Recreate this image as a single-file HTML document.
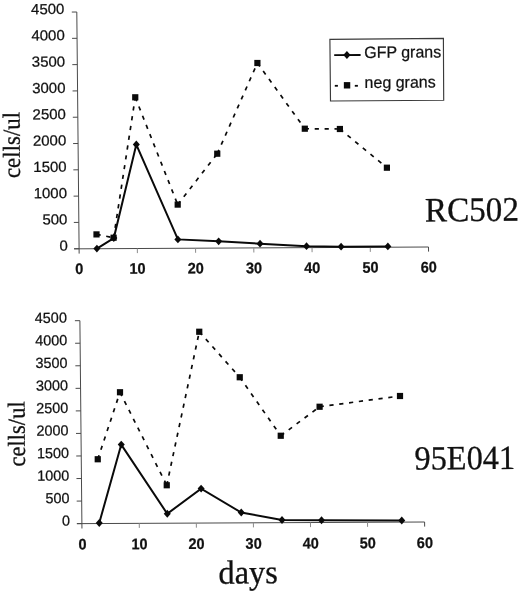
<!DOCTYPE html>
<html lang="en"><head><meta charset="utf-8"><title>cells/ul vs days</title>
<style>
html,body{margin:0;padding:0;background:#fff;}
body{width:520px;height:591px;overflow:hidden;}
svg{display:block;filter:blur(0.35px);}
.sans{font-family:"Liberation Sans",Arial,Helvetica,sans-serif;fill:#111;stroke:#111;stroke-width:0.25px;}
.serif{font-family:"Liberation Serif","Times New Roman",Times,serif;fill:#111;stroke:#111;stroke-width:0.3px;}
.yl{font-size:14.7px;}
.xl{font-size:15.3px;font-weight:bold;}
.lg{font-size:16.4px;}
</style></head><body>
<svg width="520" height="591" viewBox="0 0 520 591">
<rect width="520" height="591" fill="#fff"/>
<g stroke="#4a4a4a" stroke-width="1" fill="none">
<line x1="76.8" y1="12" x2="79.15" y2="253.6"/>
<line x1="74.1" y1="248.85" x2="428.5" y2="247"/>
<line x1="71.8" y1="12.05" x2="76.8" y2="12"/>
<line x1="72.06" y1="38.35" x2="77.06" y2="38.3"/>
<line x1="72.31" y1="64.65" x2="77.31" y2="64.6"/>
<line x1="72.57" y1="90.95" x2="77.57" y2="90.9"/>
<line x1="72.82" y1="117.25" x2="77.82" y2="117.2"/>
<line x1="73.08" y1="143.55" x2="78.08" y2="143.5"/>
<line x1="73.33" y1="169.85" x2="78.33" y2="169.8"/>
<line x1="73.59" y1="196.15" x2="78.59" y2="196.1"/>
<line x1="73.84" y1="222.45" x2="78.84" y2="222.4"/>
<line x1="74.1" y1="248.75" x2="79.1" y2="248.7"/>
<line x1="137.33" y1="248.5" x2="137.38" y2="253.1" stroke="#8c8c8c"/>
<line x1="195.57" y1="248.2" x2="195.62" y2="252.8" stroke="#8c8c8c"/>
<line x1="253.8" y1="247.9" x2="253.85" y2="252.5" stroke="#8c8c8c"/>
<line x1="312.03" y1="247.6" x2="312.08" y2="252.2" stroke="#8c8c8c"/>
<line x1="370.27" y1="247.3" x2="370.32" y2="251.9" stroke="#8c8c8c"/>
<line x1="428.5" y1="247" x2="428.55" y2="251.6"/>
</g>
<text class="sans yl" transform="translate(64.4 14) rotate(-0.4) scale(1.02 1)" text-anchor="end">4500</text>
<text class="sans yl" transform="translate(64.78 40.3) rotate(-0.4) scale(1.02 1)" text-anchor="end">4000</text>
<text class="sans yl" transform="translate(65.15 66.6) rotate(-0.4) scale(1.02 1)" text-anchor="end">3500</text>
<text class="sans yl" transform="translate(65.53 92.9) rotate(-0.4) scale(1.02 1)" text-anchor="end">3000</text>
<text class="sans yl" transform="translate(65.9 119.2) rotate(-0.4) scale(1.02 1)" text-anchor="end">2500</text>
<text class="sans yl" transform="translate(66.28 145.5) rotate(-0.4) scale(1.02 1)" text-anchor="end">2000</text>
<text class="sans yl" transform="translate(66.65 171.8) rotate(-0.4) scale(1.02 1)" text-anchor="end">1500</text>
<text class="sans yl" transform="translate(67.03 198.1) rotate(-0.4) scale(1.02 1)" text-anchor="end">1000</text>
<text class="sans yl" transform="translate(67.4 224.4) rotate(-0.4) scale(1.02 1)" text-anchor="end">500</text>
<text class="sans yl" transform="translate(67.78 250.7) rotate(-0.4) scale(1.02 1)" text-anchor="end">0</text>
<text class="sans xl" transform="translate(79.4 274) rotate(-0.4) scale(0.95 1)" text-anchor="middle">0</text>
<text class="sans xl" transform="translate(137.63 273.72) rotate(-0.4) scale(0.95 1)" text-anchor="middle">10</text>
<text class="sans xl" transform="translate(195.87 273.44) rotate(-0.4) scale(0.95 1)" text-anchor="middle">20</text>
<text class="sans xl" transform="translate(254.1 273.16) rotate(-0.4) scale(0.95 1)" text-anchor="middle">30</text>
<text class="sans xl" transform="translate(312.33 272.88) rotate(-0.4) scale(0.95 1)" text-anchor="middle">40</text>
<text class="sans xl" transform="translate(370.57 272.6) rotate(-0.4) scale(0.95 1)" text-anchor="middle">50</text>
<text class="sans xl" transform="translate(428.8 272.32) rotate(-0.4) scale(0.95 1)" text-anchor="middle">60</text>
<g fill="none" stroke="#0a0a0a" stroke-width="1.7" stroke-dasharray="4.2 5.7">
<path d="M96.5 234.4L113.6 237.7"/>
<path d="M113.6 237.7L135.25 97.3"/>
<path d="M135.25 97.3L177.7 204.6"/>
<path d="M177.7 204.6L217.25 153.7"/>
<path d="M217.25 153.7L257.4 63"/>
<path d="M257.4 63L304.8 128.7"/>
<path d="M304.8 128.7L339.9 129"/>
<path d="M339.9 129L386.9 167.7"/>
</g>
<rect x="93.4" y="231.3" width="6.2" height="6.2" fill="#0a0a0a"/>
<rect x="110.5" y="234.6" width="6.2" height="6.2" fill="#0a0a0a"/>
<rect x="132.15" y="94.2" width="6.2" height="6.2" fill="#0a0a0a"/>
<rect x="174.6" y="201.5" width="6.2" height="6.2" fill="#0a0a0a"/>
<rect x="214.15" y="150.6" width="6.2" height="6.2" fill="#0a0a0a"/>
<rect x="254.3" y="59.9" width="6.2" height="6.2" fill="#0a0a0a"/>
<rect x="301.7" y="125.6" width="6.2" height="6.2" fill="#0a0a0a"/>
<rect x="336.8" y="125.9" width="6.2" height="6.2" fill="#0a0a0a"/>
<rect x="383.8" y="164.6" width="6.2" height="6.2" fill="#0a0a0a"/>
<path d="M96.9 248.6L113.8 238L136.3 144.5L177.9 239.4L218.65 241.35L260 243.65L306.5 246.2L341.1 246.7L387.85 246.4" fill="none" stroke="#0a0a0a" stroke-width="2" stroke-linejoin="miter"/>
<path d="M96.9 244.7L100.4 248.6L96.9 252.5L93.4 248.6Z" fill="#0a0a0a"/>
<path d="M113.8 234.1L117.3 238L113.8 241.9L110.3 238Z" fill="#0a0a0a"/>
<path d="M136.3 140.6L139.8 144.5L136.3 148.4L132.8 144.5Z" fill="#0a0a0a"/>
<path d="M177.9 235.5L181.4 239.4L177.9 243.3L174.4 239.4Z" fill="#0a0a0a"/>
<path d="M218.65 237.45L222.15 241.35L218.65 245.25L215.15 241.35Z" fill="#0a0a0a"/>
<path d="M260 239.75L263.5 243.65L260 247.55L256.5 243.65Z" fill="#0a0a0a"/>
<path d="M306.5 242.3L310 246.2L306.5 250.1L303 246.2Z" fill="#0a0a0a"/>
<path d="M341.1 242.8L344.6 246.7L341.1 250.6L337.6 246.7Z" fill="#0a0a0a"/>
<path d="M387.85 242.5L391.35 246.4L387.85 250.3L384.35 246.4Z" fill="#0a0a0a"/>
<g stroke="#4a4a4a" stroke-width="1" fill="none">
<line x1="79.9" y1="320.66" x2="81.95" y2="528.5"/>
<line x1="76.9" y1="523.65" x2="424.6" y2="522"/>
<line x1="74.9" y1="320.71" x2="79.9" y2="320.66"/>
<line x1="75.12" y1="343.26" x2="80.12" y2="343.21"/>
<line x1="75.34" y1="365.81" x2="80.34" y2="365.76"/>
<line x1="75.57" y1="388.36" x2="80.57" y2="388.31"/>
<line x1="75.79" y1="410.91" x2="80.79" y2="410.86"/>
<line x1="76.01" y1="433.45" x2="81.01" y2="433.4"/>
<line x1="76.23" y1="456" x2="81.23" y2="455.95"/>
<line x1="76.46" y1="478.55" x2="81.46" y2="478.5"/>
<line x1="76.68" y1="501.1" x2="81.68" y2="501.05"/>
<line x1="76.9" y1="523.65" x2="81.9" y2="523.6"/>
<line x1="139.27" y1="523.33" x2="139.32" y2="527.93" stroke="#8c8c8c"/>
<line x1="196.33" y1="523.07" x2="196.38" y2="527.67" stroke="#8c8c8c"/>
<line x1="253.4" y1="522.8" x2="253.45" y2="527.4" stroke="#8c8c8c"/>
<line x1="310.47" y1="522.53" x2="310.52" y2="527.13" stroke="#8c8c8c"/>
<line x1="367.53" y1="522.27" x2="367.58" y2="526.87" stroke="#8c8c8c"/>
<line x1="424.6" y1="522" x2="424.65" y2="526.6"/>
</g>
<text class="sans yl" transform="translate(66.9 322.76) rotate(-0.4) scale(0.98 1)" text-anchor="end">4500</text>
<text class="sans yl" transform="translate(67.24 345.31) rotate(-0.4) scale(0.98 1)" text-anchor="end">4000</text>
<text class="sans yl" transform="translate(67.58 367.86) rotate(-0.4) scale(0.98 1)" text-anchor="end">3500</text>
<text class="sans yl" transform="translate(67.93 390.41) rotate(-0.4) scale(0.98 1)" text-anchor="end">3000</text>
<text class="sans yl" transform="translate(68.27 412.96) rotate(-0.4) scale(0.98 1)" text-anchor="end">2500</text>
<text class="sans yl" transform="translate(68.61 435.5) rotate(-0.4) scale(0.98 1)" text-anchor="end">2000</text>
<text class="sans yl" transform="translate(68.95 458.05) rotate(-0.4) scale(0.98 1)" text-anchor="end">1500</text>
<text class="sans yl" transform="translate(69.3 480.6) rotate(-0.4) scale(0.98 1)" text-anchor="end">1000</text>
<text class="sans yl" transform="translate(69.64 503.15) rotate(-0.4) scale(0.98 1)" text-anchor="end">500</text>
<text class="sans yl" transform="translate(69.98 525.7) rotate(-0.4) scale(0.98 1)" text-anchor="end">0</text>
<text class="sans xl" transform="translate(82.5 549.4) rotate(-0.4) scale(0.95 1)" text-anchor="middle">0</text>
<text class="sans xl" transform="translate(139.57 549.15) rotate(-0.4) scale(0.95 1)" text-anchor="middle">10</text>
<text class="sans xl" transform="translate(196.63 548.9) rotate(-0.4) scale(0.95 1)" text-anchor="middle">20</text>
<text class="sans xl" transform="translate(253.7 548.65) rotate(-0.4) scale(0.95 1)" text-anchor="middle">30</text>
<text class="sans xl" transform="translate(310.77 548.4) rotate(-0.4) scale(0.95 1)" text-anchor="middle">40</text>
<text class="sans xl" transform="translate(367.83 548.15) rotate(-0.4) scale(0.95 1)" text-anchor="middle">50</text>
<text class="sans xl" transform="translate(424.9 547.9) rotate(-0.4) scale(0.95 1)" text-anchor="middle">60</text>
<g fill="none" stroke="#0a0a0a" stroke-width="1.7" stroke-dasharray="4.2 5.7">
<path d="M97.75 459.25L120 392.25"/>
<path d="M120 392.25L166.75 485.25"/>
<path d="M166.75 485.25L199.25 331.75"/>
<path d="M199.25 331.75L239.75 377.25"/>
<path d="M239.75 377.25L280.75 435.75"/>
<path d="M280.75 435.75L319.6 406.75"/>
<path d="M319.6 406.75L400 396"/>
</g>
<rect x="94.65" y="456.15" width="6.2" height="6.2" fill="#0a0a0a"/>
<rect x="116.9" y="389.15" width="6.2" height="6.2" fill="#0a0a0a"/>
<rect x="163.65" y="482.15" width="6.2" height="6.2" fill="#0a0a0a"/>
<rect x="196.15" y="328.65" width="6.2" height="6.2" fill="#0a0a0a"/>
<rect x="236.65" y="374.15" width="6.2" height="6.2" fill="#0a0a0a"/>
<rect x="277.65" y="432.65" width="6.2" height="6.2" fill="#0a0a0a"/>
<rect x="316.5" y="403.65" width="6.2" height="6.2" fill="#0a0a0a"/>
<rect x="396.9" y="392.9" width="6.2" height="6.2" fill="#0a0a0a"/>
<path d="M99.25 523L121.25 444.6L167.25 513.75L201.1 488.6L241.25 512.5L282 520L321.5 520.25L401.75 520.5" fill="none" stroke="#0a0a0a" stroke-width="2" stroke-linejoin="miter"/>
<path d="M99.25 519.1L102.75 523L99.25 526.9L95.75 523Z" fill="#0a0a0a"/>
<path d="M121.25 440.7L124.75 444.6L121.25 448.5L117.75 444.6Z" fill="#0a0a0a"/>
<path d="M167.25 509.85L170.75 513.75L167.25 517.65L163.75 513.75Z" fill="#0a0a0a"/>
<path d="M201.1 484.7L204.6 488.6L201.1 492.5L197.6 488.6Z" fill="#0a0a0a"/>
<path d="M241.25 508.6L244.75 512.5L241.25 516.4L237.75 512.5Z" fill="#0a0a0a"/>
<path d="M282 516.1L285.5 520L282 523.9L278.5 520Z" fill="#0a0a0a"/>
<path d="M321.5 516.35L325 520.25L321.5 524.15L318 520.25Z" fill="#0a0a0a"/>
<path d="M401.75 516.6L405.25 520.5L401.75 524.4L398.25 520.5Z" fill="#0a0a0a"/>
<path d="M329.9 39.4L443.4 38.4L443.7 100.3L330.5 101Z" fill="#fff" stroke="#3a3a3a" stroke-width="1.15"/>
<line x1="334.2" y1="55.1" x2="360.6" y2="55" stroke="#0a0a0a" stroke-width="1.9"/>
<path d="M346.9 51L350.5 55L346.9 59L343.3 55Z" fill="#0a0a0a"/>
<line x1="334.8" y1="85.8" x2="337.9" y2="85.8" stroke="#0a0a0a" stroke-width="1.8"/>
<line x1="354.8" y1="85.8" x2="357.9" y2="85.8" stroke="#0a0a0a" stroke-width="1.8"/>
<rect x="343.85" y="82.1" width="6.4" height="6.4" fill="#0a0a0a"/>
<text class="sans lg" transform="translate(364.2 57.9) rotate(-0.4) scale(0.975 1)" text-anchor="start">GFP grans</text>
<text class="sans lg" transform="translate(364.6 88) rotate(-0.4) scale(0.975 1)" text-anchor="start">neg grans</text>
<text class="serif" transform="translate(425.1 221.4) rotate(-0.4) scale(0.966 1)" text-anchor="start" font-size="34.3px">RC502</text>
<text class="serif" transform="translate(414.5 469.6) rotate(-0.4) scale(0.958 1)" text-anchor="start" font-size="33.8px">95E041</text>
<text class="serif" transform="translate(218.5 583.7) rotate(-0.4) scale(0.965 1)" text-anchor="start" font-size="33.6px">days</text>
<text class="serif" font-size="24.3px" stroke-width="0.45" transform="translate(20 178.1) rotate(-90.4) scale(0.945 1)">cells/ul</text>
<text class="serif" font-size="24.3px" stroke-width="0.45" transform="translate(25 466.6) rotate(-90.4) scale(0.932 1)">cells/ul</text>
</svg>
</body></html>
